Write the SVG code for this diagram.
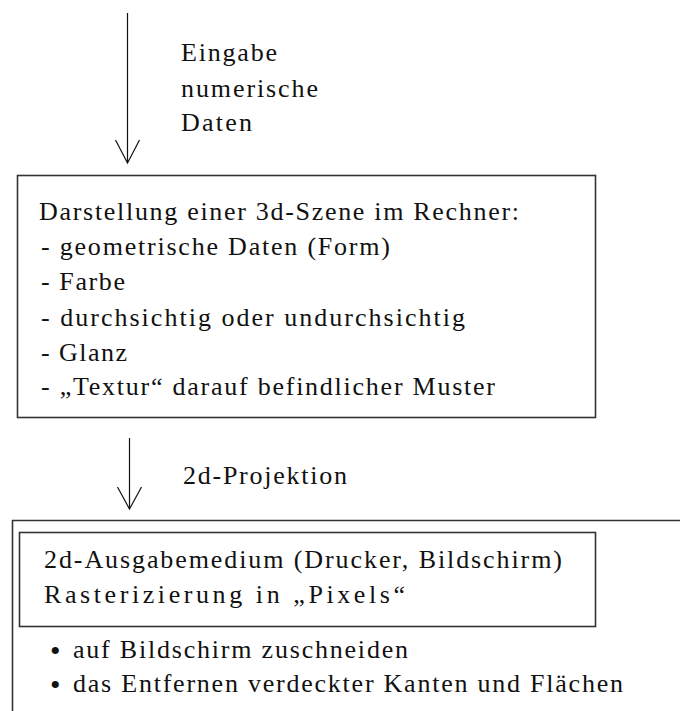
<svg xmlns="http://www.w3.org/2000/svg" width="680" height="711" viewBox="0 0 680 711">
  <style>
    text { font-family: 'Liberation Serif', 'Times New Roman', serif; font-size: 26px; fill: #111; }
    .box { fill: none; stroke: #333; stroke-width: 1.6; }
    .ln { fill: none; stroke: #111; stroke-width: 1.2; }
    .bul { font-size: 30px; }
  </style>
  <rect width="680" height="711" fill="#fff"/>
  <g id="connectors">
    <g id="arrow-input">
      <line class="ln" x1="127.5" y1="13" x2="127.5" y2="163"/>
      <polyline class="ln" points="115.5,140 127.5,163 139.5,140"/>
    </g>
    <g id="arrow-projection">
      <line class="ln" x1="129.5" y1="438" x2="129.5" y2="509"/>
      <polyline class="ln" points="117.5,487 129.5,509 141.5,487"/>
    </g>
  </g>
  <g id="label-input">
    <text x="181" y="61" textLength="96">Eingabe</text>
    <text x="181" y="97" textLength="137">numerische</text>
    <text x="181" y="131" textLength="71">Daten</text>
  </g>
  <g id="node-scene">
    <rect class="box" x="17.5" y="175.5" width="578" height="242"/>
    <text x="39" y="220" textLength="480">Darstellung einer 3d-Szene im Rechner:</text>
    <text x="41" y="255" textLength="349">- geometrische Daten (Form)</text>
    <text x="41" y="290" textLength="84">- Farbe</text>
    <text x="41" y="326" textLength="424">- durchsichtig oder undurchsichtig</text>
    <text x="41" y="361" textLength="86">- Glanz</text>
    <text x="41" y="395" textLength="454">- „Textur“ darauf befindlicher Muster</text>
  </g>
  <g id="label-projection">
    <text x="183" y="484" textLength="164">2d-Projektion</text>
  </g>
  <g id="node-output">
    <polyline class="box" points="12.5,711 12.5,520.5 680,520.5"/>
    <rect class="box" x="19.5" y="532.5" width="576" height="94"/>
    <text x="44" y="568" textLength="518">2d-Ausgabemedium (Drucker, Bildschirm)</text>
    <text x="44" y="603" textLength="361">Rasterizierung in „Pixels“</text>
    <text class="bul" x="50" y="661">•</text>
    <text x="73" y="658" textLength="335">auf Bildschirm zuschneiden</text>
    <text class="bul" x="50" y="695">•</text>
    <text x="73" y="692" textLength="550">das Entfernen verdeckter Kanten und Flächen</text>
  </g>
</svg>
